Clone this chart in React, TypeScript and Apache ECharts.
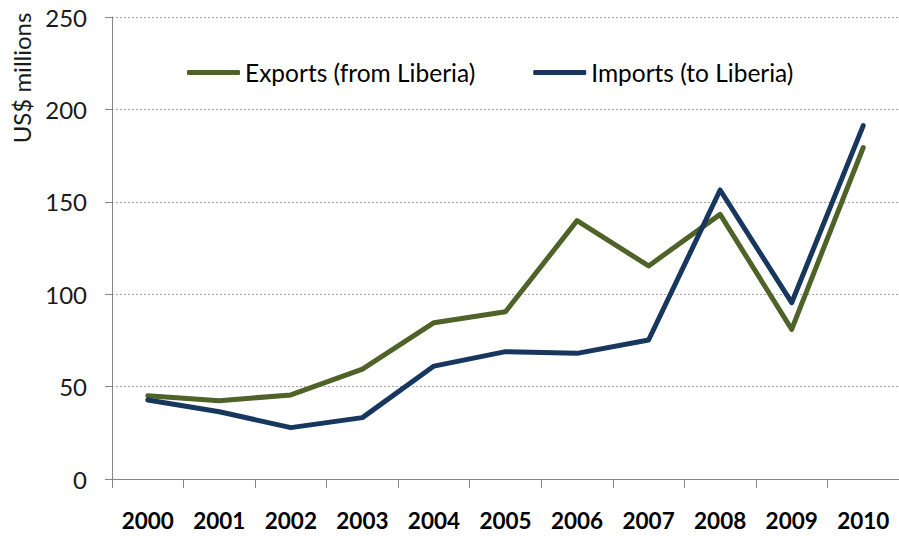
import React, { useEffect, useRef } from "react";
import * as echarts from "echarts";

const years = ["2000", "2001", "2002", "2003", "2004", "2005", "2006", "2007", "2008", "2009", "2010"];
const exportsFromLiberia = [45.1, 42.4, 45.5, 59.5, 84.6, 90.5, 139.8, 115.3, 143.2, 81.0, 179.4];
const importsToLiberia = [42.7, 36.4, 27.8, 33.2, 61.1, 68.9, 68.0, 75.2, 156.4, 95.4, 191.2];
const seriesNames = ["Exports (from Liberia)", "Imports (to Liberia)"];
const yTicks = { min: 0, max: 250, interval: 50 };
const yAxisTitle = "US$ millions";

const FONT = "Lato, 'Open Sans', sans-serif";
const GREEN = "#4F6228";
const BLUE = "#17375E";

export default function App() {
  const ref = useRef<HTMLDivElement>(null);
  useEffect(() => {
    if (!ref.current) return;
    const chart = echarts.init(ref.current, undefined, { renderer: "svg" });
    chart.setOption({
      animation: false,
      backgroundColor: "#ffffff",
      grid: { left: 112, top: 17, right: -9, bottom: 57, containLabel: false },
      legend: {
        left: 182,
        top: 55,
        itemWidth: 53,
        itemHeight: 5,
        itemGap: 58,
        icon: "roundRect",
        textStyle: { fontFamily: FONT, fontSize: 24.5, color: "#000000", padding: [0, 0, 0, 0] },
        data: seriesNames,
      },
      xAxis: {
        type: "category",
        data: years,
        boundaryGap: true,
        axisLine: { lineStyle: { color: "#868686", width: 1 } },
        axisTick: { show: true, interval: 0, length: 9, lineStyle: { color: "#868686" }, inside: false },
        axisLabel: {
          interval: 0,
          fontFamily: FONT,
          fontSize: 22.5,
          fontWeight: "bold",
          color: "#000000",
          margin: 30,
        },
        splitLine: { show: false },
      },
      yAxis: {
        type: "value",
        min: yTicks.min,
        max: yTicks.max,
        interval: yTicks.interval,
        axisLine: { show: true, lineStyle: { color: "#868686", width: 1 } },
        axisTick: { show: true, length: 7, lineStyle: { color: "#868686" } },
        axisLabel: { fontFamily: FONT, fontSize: 24, color: "#1a1a1a", margin: 25 },
        splitLine: { show: true, lineStyle: { color: "#a6a6a6", type: [2, 2], width: 1 } },
      },
      graphic: [
        {
          type: "text",
          x: 21,
          y: 78,
          rotation: Math.PI / 2,
          style: {
            text: yAxisTitle,
            fontFamily: FONT,
            fontSize: 24,
            fill: "#1a1a1a",
            align: "center",
            verticalAlign: "middle",
          },
        },
      ],
      series: [
        {
          name: seriesNames[0],
          type: "line",
          data: exportsFromLiberia,
          showSymbol: false,
          symbol: "none",
          lineStyle: { color: GREEN, width: 5, join: "round", cap: "round" },
          itemStyle: { color: GREEN },
        },
        {
          name: seriesNames[1],
          type: "line",
          data: importsToLiberia,
          showSymbol: false,
          symbol: "none",
          lineStyle: { color: BLUE, width: 5, join: "round", cap: "round" },
          itemStyle: { color: BLUE },
        },
      ],
    });
    return () => chart.dispose();
  }, []);
  return (
    <div
      ref={ref}
      style={{ position: "fixed", left: 0, top: 0, width: 899, height: 536, background: "#fff" }}
    />
  );
}
